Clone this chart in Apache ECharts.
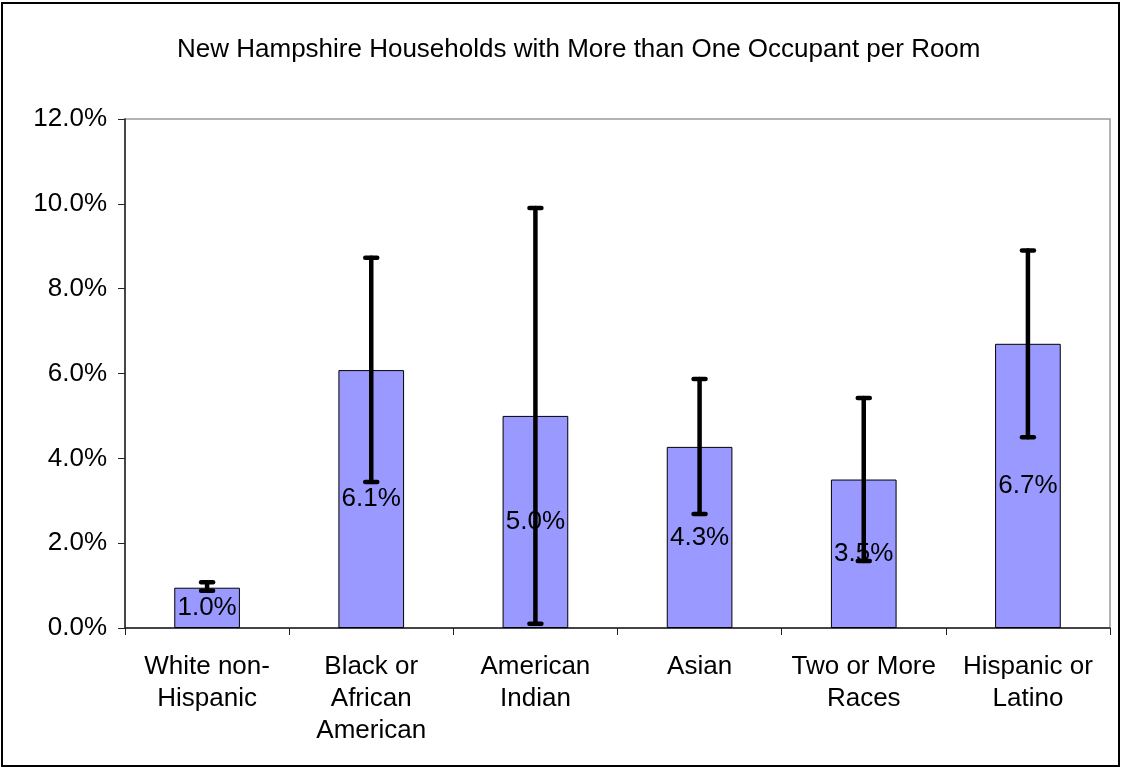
<!DOCTYPE html>
<html>
<head>
<meta charset="utf-8">
<script src="https://cdn.jsdelivr.net/npm/echarts@6/dist/echarts.min.js"></script>
<style>
  html, body { margin: 0; padding: 0; background: #fff; }
  #chart { width: 1122px; height: 769px; }
</style>
</head>
<body>
<div id="chart"></div>
<script>
// 数据
const categories = ['White non-\nHispanic', 'Black or\nAfrican\nAmerican', 'American\nIndian', 'Asian', 'Two or More\nRaces', 'Hispanic or\nLatino']
const values = [0.95, 6.08, 5.0, 4.27, 3.5, 6.7]
const labels = ['1.0%', '6.1%', '5.0%', '4.3%', '3.5%', '6.7%']
const errLow = [0.88, 3.44, 0.1, 2.69, 1.58, 4.5]
const errHigh = [1.08, 8.73, 9.9, 5.87, 5.42, 8.9]
const yTicks = [0, 2, 4, 6, 8, 10, 12]

const myChart = echarts.init(document.getElementById('chart'))

const font = '"Liberation Sans", Arial, sans-serif'

const options = {
  animation: false,
  title: {
    text: 'New Hampshire Households with More than One Occupant per Room',
    left: 172,
    top: 32,
    textStyle: { fontFamily: font, fontSize: 26, fontWeight: 'normal', color: '#000' }
  },
  grid: {
    left: 125,
    right: 12,
    top: 119,
    bottom: 141,
    show: true,
    borderColor: '#9a9a9a',
    borderWidth: 1.5
  },
  xAxis: {
    type: 'category',
    data: categories,
    axisLine: { show: true, lineStyle: { color: '#222', width: 1.5 } },
    axisTick: { show: true, alignWithLabel: false, length: 7, lineStyle: { color: '#222' } },
    axisLabel: {
      fontFamily: font, fontSize: 26, color: '#000', lineHeight: 32, margin: 23,
      interval: 0
    }
  },
  yAxis: {
    type: 'value',
    min: 0,
    max: 12,
    interval: 2,
    axisLine: { show: true, lineStyle: { color: '#222', width: 1.5 } },
    axisTick: { show: true, length: 7, lineStyle: { color: '#222' } },
    splitLine: { show: false },
    axisLabel: {
      fontFamily: font, fontSize: 26, color: '#000', margin: 18,
      formatter: (v) => yTicks.includes(v) ? v.toFixed(1) + '%' : ''
    }
  },
  series: [
    {
      type: 'bar',
      data: values,
      barWidth: '40%',
      itemStyle: { color: '#9999FF', borderColor: '#000', borderWidth: 1 },
      label: {
        show: true,
        position: 'inside',
        fontFamily: font,
        fontSize: 26,
        color: '#000',
        formatter: (p) => labels[p.dataIndex]
      },
      z: 2
    },
    {
      // 误差线
      type: 'custom',
      data: categories.map((c, i) => [i, errLow[i], errHigh[i]]),
      z: 5,
      renderItem: (params, api) => {
        const lo = api.coord([api.value(0), api.value(1)])
        const hi = api.coord([api.value(0), api.value(2)])
        const cap = 6
        const style = { stroke: '#000', lineWidth: 4.5, lineCap: 'round' }
        return {
          type: 'group',
          children: [
            { type: 'line', shape: { x1: hi[0], y1: hi[1], x2: lo[0], y2: lo[1] }, style },
            { type: 'line', shape: { x1: hi[0] - cap, y1: hi[1], x2: hi[0] + cap, y2: hi[1] }, style },
            { type: 'line', shape: { x1: lo[0] - cap, y1: lo[1], x2: lo[0] + cap, y2: lo[1] }, style }
          ]
        }
      }
    }
  ],
  graphic: [
    {
      type: 'rect',
      shape: { x: 2, y: 3, width: 1117, height: 763 },
      style: { fill: 'none', stroke: '#000', lineWidth: 2 },
      silent: true
    }
  ]
}

myChart.setOption(options)
</script>
</body>
</html>
